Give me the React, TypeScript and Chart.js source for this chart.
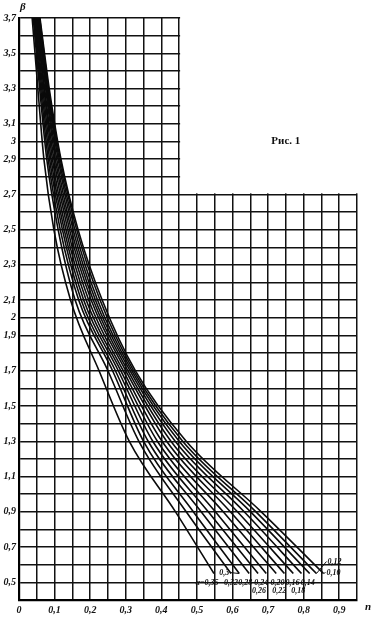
import React, { useEffect, useRef } from 'react';
import { Chart, registerables } from 'chart.js';

Chart.register(...registerables);

// β levels at which every curve was read (top to bottom)
const betaLevels = [3.7, 3.3, 2.9, 2.5, 2.1, 1.7, 1.3, 0.9, 0.55];

// n values of each α curve at those β levels
const nA035 = [0.037, 0.053, 0.070, 0.098, 0.145, 0.225, 0.310, 0.440, 0.548];
const nA032 = [0.040, 0.058, 0.078, 0.110, 0.158, 0.250, 0.337, 0.470, 0.596];
const nA030 = [0.042, 0.061, 0.082, 0.116, 0.168, 0.263, 0.350, 0.490, 0.619];
const nA028 = [0.044, 0.064, 0.086, 0.122, 0.175, 0.271, 0.363, 0.512, 0.647];
const nA026 = [0.046, 0.067, 0.090, 0.127, 0.182, 0.279, 0.376, 0.532, 0.672];
const nA024 = [0.048, 0.070, 0.094, 0.132, 0.189, 0.286, 0.389, 0.552, 0.695];
const nA022 = [0.050, 0.072, 0.098, 0.137, 0.196, 0.293, 0.402, 0.574, 0.723];
const nA020 = [0.052, 0.075, 0.102, 0.142, 0.203, 0.300, 0.415, 0.594, 0.746];
const nA018 = [0.054, 0.077, 0.106, 0.147, 0.209, 0.306, 0.427, 0.614, 0.771];
const nA016 = [0.055, 0.079, 0.110, 0.152, 0.215, 0.312, 0.439, 0.633, 0.794];
const nA014 = [0.056, 0.081, 0.113, 0.157, 0.221, 0.317, 0.450, 0.651, 0.817];
const nA012 = [0.058, 0.083, 0.116, 0.162, 0.228, 0.322, 0.460, 0.666, 0.836];
const nA010 = [0.059, 0.085, 0.118, 0.166, 0.234, 0.327, 0.470, 0.681, 0.856];

const curves = [nA035, nA032, nA030, nA028, nA026, nA024, nA022, nA020, nA018, nA016, nA014, nA012, nA010];
const alphaLabels = ['α=0,35', '0,32', '0,3', '0,28', '0,26', '0,24', '0,22', '0,20', '0,18', '0,16', '0,14', '0,12', '0,10'];

// axis tick labels
const yLabelValues = [3.7, 3.5, 3.3, 3.1, 3.0, 2.9, 2.7, 2.5, 2.3, 2.1, 2.0, 1.9, 1.7, 1.5, 1.3, 1.1, 0.9, 0.7, 0.5];
const xLabelValues = [0, 0.1, 0.2, 0.3, 0.4, 0.5, 0.6, 0.7, 0.8, 0.9];

// grid extent
const nMax = 0.95;
const betaMin = 0.4;
const betaMax = 3.7;
const stepN = 0.45; // upper part of grid ends here
const stepBeta = 2.7; // ...above this β

// pixel offsets of α labels from curve ends (style only): [dx, dy, leader]
const labelOffsets: [number, number, boolean][] = [
  [-7, 9, false],
  [0, 9, false],
  [-15, -1, true],
  [-4, 9, false],
  [1, 17, false],
  [-5, 9, false],
  [3, 17, false],
  [-7, 9, false],
  [5, 17, false],
  [-9, 9, false],
  [-2, 9, false],
  [18, -12, true],
  [10, -1, true],
];

const fmt = (v: number) => String(Math.round(v * 10) / 10).replace('.', ',');
const tickFont = { family: "'Liberation Serif', serif", style: 'italic' as const, weight: 'bold' as const, size: 10 };

const annotPlugin = {
  id: 'annot',
  beforeDatasetsDraw(chart: any) {
    const { ctx, scales } = chart;
    const x0 = scales.x.getPixelForValue(stepN);
    const y0 = scales.y.getPixelForValue(stepBeta);
    ctx.save();
    ctx.fillStyle = '#ffffff';
    ctx.fillRect(x0 + 1, 0, chart.width - x0, y0 - 1);
    ctx.restore();
  },
  afterDatasetsDraw(chart: any) {
    const { ctx, scales, chartArea } = chart;
    const xs = scales.x;
    const ys = scales.y;
    ctx.save();
    ctx.fillStyle = '#111';
    ctx.strokeStyle = '#111';
    ctx.lineWidth = 1;
    ctx.textBaseline = 'middle';
    ctx.textAlign = 'center';
    ctx.font = "italic bold 8px 'Liberation Serif', serif";
    curves.forEach((c, i) => {
      const last = c.length - 1;
      const px = xs.getPixelForValue(c[last]);
      const py = ys.getPixelForValue(betaLevels[last]);
      const [dx, dy, leader] = labelOffsets[i];
      const text = alphaLabels[i];
      const tx = px + dx;
      const ty = py + dy;
      ctx.fillText(text, tx, ty);
      if (leader) {
        const w = ctx.measureText(text).width;
        ctx.beginPath();
        if (dx < 0) {
          ctx.moveTo(tx + w / 2 + 1, ty);
        } else {
          ctx.moveTo(tx - w / 2 - 1, ty);
        }
        ctx.lineTo(px, py);
        ctx.stroke();
      }
    });
    // axis names
    ctx.font = "italic bold 11px 'Liberation Serif', serif";
    ctx.textAlign = 'left';
    ctx.fillText('β', chartArea.left + 1, chartArea.top - 11);
    ctx.fillText('n', chartArea.right + 8, chartArea.bottom + 7);
    // figure caption
    ctx.font = "bold 11px 'Liberation Serif', serif";
    ctx.textAlign = 'center';
    ctx.fillText('Рис. 1', xs.getPixelForValue(0.75), ys.getPixelForValue(3.0));
    ctx.restore();
  },
};

export default function App() {
  const ref = useRef<HTMLCanvasElement>(null);
  useEffect(() => {
    if (!ref.current) return;
    const chart = new Chart(ref.current, {
      type: 'line',
      data: {
        datasets: curves.map((c, i) => ({
          label: alphaLabels[i],
          data: betaLevels.map((b, j) => ({ x: c[j], y: b })),
          borderColor: '#0a0a0a',
          borderWidth: 1.6,
          pointRadius: 0,
          fill: false,
          cubicInterpolationMode: 'monotone' as const,
        })),
      },
      options: {
        animation: false,
        responsive: true,
        maintainAspectRatio: false,
        layout: { padding: { top: 18, right: 14, bottom: 0, left: 0 } },
        plugins: { legend: { display: false }, tooltip: { enabled: false } },
        scales: {
          x: {
            type: 'linear',
            min: 0,
            max: nMax,
            afterFit: (s: any) => { s.height = 21; },
            grid: { color: '#111', lineWidth: 1.5, drawTicks: false },
            border: { color: '#000', width: 2.2 },
            ticks: {
              stepSize: 0.05,
              padding: 4,
              maxRotation: 0,
              autoSkip: false,
              color: '#111',
              font: tickFont,
              callback: (v: any) => {
                const r = Math.round(Number(v) * 100) / 100;
                return xLabelValues.some((t) => Math.abs(t - r) < 1e-6) ? fmt(r) : '';
              },
            },
          },
          y: {
            type: 'linear',
            min: betaMin,
            max: betaMax,
            afterFit: (s: any) => { s.width = 19; },
            grid: { color: '#111', lineWidth: 1.5, drawTicks: false },
            border: { color: '#000', width: 2.2 },
            ticks: {
              stepSize: 0.1,
              padding: 3,
              autoSkip: false,
              color: '#111',
              font: tickFont,
              callback: (v: any) => {
                const r = Math.round(Number(v) * 10) / 10;
                return yLabelValues.some((t) => Math.abs(t - r) < 1e-6) ? fmt(r) : '';
              },
            },
          },
        },
      },
      plugins: [annotPlugin],
    });
    return () => chart.destroy();
  }, []);
  return (
    <div style={{ position: 'fixed', left: 0, top: 0, width: 371, height: 621, background: '#fff' }}>
      <canvas ref={ref} />
    </div>
  );
}
